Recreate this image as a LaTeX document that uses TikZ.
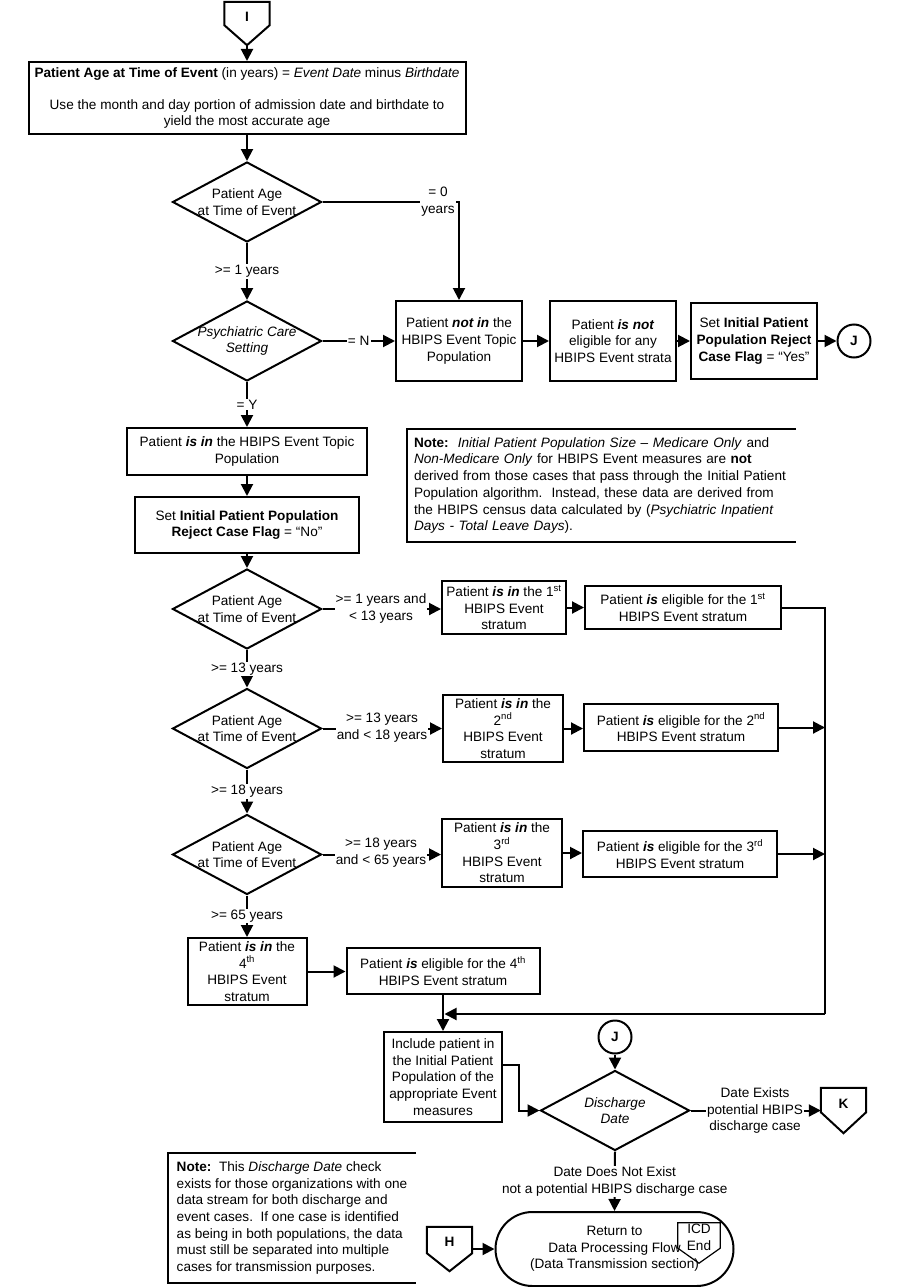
\documentclass[tikz,border=0pt]{standalone}
\usepackage{fontspec}
\setmainfont{Liberation Sans}
\usetikzlibrary{arrows.meta,shapes.geometric,shapes.misc,calc}
\newcommand{\myfs}{\fontsize{13.6}{16.7}\selectfont}
\begin{document}
\begin{tikzpicture}[x=1pt,y=-1pt,
  every node/.style={font=\myfs, text=black},
  lw/.style={line width=2pt},
  ln/.style={line width=2pt},
  box/.style={draw, lw, rectangle, align=center, inner sep=2pt},
  dia/.style={draw, lw, diamond, aspect=1.8625, inner sep=-3pt, minimum width=149pt, minimum height=80pt, align=center},
  arr/.style={line width=2pt, -{Triangle[length=12pt,width=12pt]}},
  lbl/.style={fill=white, inner sep=1pt, align=center},
  conn/.style={inner sep=0pt, minimum width=45pt},
  circ/.style={draw, lw, circle, minimum size=33pt, inner sep=0pt, font=\myfs\bfseries},
  note/.style={inner xsep=7pt, inner ysep=0pt, align=left}
]
\fill[white] (0,0) rectangle (901,1287);
\useasboundingbox (0,0) rectangle (901,1287);

% off-page connector I
\node[conn, minimum height=43pt] (I) at (247,23.5) {};
\draw[lw] (I.north west) -- (I.north east) -- ([yshift=20pt]I.south east) -- (I.south) -- ([yshift=20pt]I.south west) -- cycle;
\node[inner sep=0pt, font=\myfs\bfseries] (Itxt) at ([yshift=-15pt]I.north) {I};

\node[box, minimum width=437pt, minimum height=72pt] (b1) at (247,98)
  {\textbf{Patient Age at Time of Event} (in years) = \textit{Event Date} minus \textit{Birthdate}\\[15.5pt]
   Use the month and day portion of admission date and birthdate to\\yield the most accurate age};
\draw[arr] (I.south) -- (b1.north);

\node[dia] (d1) at (247,202) {Patient Age\\at Time of Event};
\draw[arr] (b1.south) -- (d1.north);

\node[dia] (d2) at (247,341) {\textit{Psychiatric Care}\\\textit{Setting}};
\draw[arr] (d1.south) -- (d2.north);

\node[box, minimum width=126pt, minimum height=80pt] (notin) at (459,341)
  {Patient \textbf{\textit{not in}} the\\HBIPS Event Topic\\Population};
\node[box, minimum width=126pt, minimum height=80pt] (isnot) at (613,341)
  {Patient \textbf{\textit{is not}}\\eligible for any\\HBIPS Event strata};
\node[box, minimum width=126pt, minimum height=76pt] (setyes) at (754,341)
  {Set \textbf{Initial Patient}\\\textbf{Population Reject}\\\textbf{Case Flag} = “Yes”};
\node[circ] (J1) at (854,341) {J};

\draw[arr] (d1.east) -| (notin.north);
\draw[arr] (d2.east) -- (notin.west);
\draw[arr] (notin.east) -- (isnot.west);
\draw[arr] (isnot.east) -- (setyes.west);
\draw[arr] (setyes.east) -- (J1.west);

\node[box, minimum width=240pt, minimum height=47pt] (topic) at (247,451.5)
  {Patient \textbf{\textit{is in}} the HBIPS Event Topic\\Population};
\node[box, minimum width=224pt, minimum height=56pt] (setno) at (247,525)
  {Set \textbf{Initial Patient Population}\\\textbf{Reject Case Flag} = “No”};
\draw[arr] (d2.south) -- (topic.north);
\draw[arr] (topic.south) -- (setno.north);

% note 1
\node[note, text width=375pt, minimum height=113pt] (n1) at (601.5,485.5)
  {\textbf{Note:}\ \ \textit{Initial Patient Population Size – Medicare Only} and\\
   \textit{Non-Medicare Only} for HBIPS Event measures are \textbf{not}\\
   derived from those cases that pass through the Initial Patient\\
   Population algorithm.\ \ Instead, these data are derived from\\
   the HBIPS census data calculated by (\textit{Psychiatric Inpatient}\\
   \textit{Days - Total Leave Days}).};
\draw[lw] (n1.north east) -- (n1.north west) -- (n1.south west) -- (n1.south east);

% age strata
\node[dia] (d3) at (247,609) {Patient Age\\at Time of Event};
\node[dia] (d4) at (247,728.5) {Patient Age\\at Time of Event};
\node[dia] (d5) at (247,854.5) {Patient Age\\at Time of Event};
\draw[arr] (setno.south) -- (d3.north);
\draw[arr] (d3.south) -- (d4.north);
\draw[arr] (d4.south) -- (d5.north);

\node[box, minimum width=124pt, minimum height=53pt] (s1) at (504,607.5)
  {Patient \textbf{\textit{is in}} the 1\textsuperscript{st}\\HBIPS Event\\stratum};
\node[box, minimum width=120pt, minimum height=67pt] (s2) at (503,728.5)
  {Patient \textbf{\textit{is in}} the\\2\textsuperscript{nd}\\HBIPS Event\\stratum};
\node[box, minimum width=120pt, minimum height=68pt] (s3) at (502,853)
  {Patient \textbf{\textit{is in}} the\\3\textsuperscript{rd}\\HBIPS Event\\stratum};
\node[box, minimum width=119pt, minimum height=67pt] (s4) at (247,971.5)
  {Patient \textbf{\textit{is in}} the\\4\textsuperscript{th}\\HBIPS Event\\stratum};

\node[box, minimum width=196pt, minimum height=43pt] (e1) at (683,607.5)
  {Patient \textbf{\textit{is}} eligible for the 1\textsuperscript{st}\\HBIPS Event stratum};
\node[box, minimum width=194pt, minimum height=47pt] (e2) at (681,727.5)
  {Patient \textbf{\textit{is}} eligible for the 2\textsuperscript{nd}\\HBIPS Event stratum};
\node[box, minimum width=194pt, minimum height=46pt] (e3) at (680,854)
  {Patient \textbf{\textit{is}} eligible for the 3\textsuperscript{rd}\\HBIPS Event stratum};
\node[box, minimum width=193pt, minimum height=46pt] (e4) at (443,971)
  {Patient \textbf{\textit{is}} eligible for the 4\textsuperscript{th}\\HBIPS Event stratum};

\draw[arr] (d3.east) -- (d3.east -| s1.west);
\draw[arr] (d4.east) -- (d4.east -| s2.west);
\draw[arr] (d5.east) -- (d5.east -| s3.west);
\draw[arr] (d5.south) -- (s4.north);
\draw[arr] (s1.east) -- (s1.east -| e1.west);
\draw[arr] (s2.east) -- (s2.east -| e2.west);
\draw[arr] (s3.east) -- (s3.east -| e3.west);
\draw[arr] (s4.east) -- (s4.east -| e4.west);

\coordinate (Rtop) at (825,607.5);
\coordinate (Rbot) at (825,1014);
\draw[ln] (e1.east) -- (Rtop) -- (Rbot);
\draw[arr] (e2.east) -- (e2.east -| Rtop);
\draw[arr] (e3.east) -- (e3.east -| Rtop);

\node[box, minimum width=118pt, minimum height=90pt] (inc) at (443,1077)
  {Include patient in\\the Initial Patient\\Population of the\\appropriate Event\\measures};
\draw[arr] (e4.south) -- (inc.north);
\draw[arr, shorten >=1.5pt] (Rbot) -- (Rbot -| inc.north);

% discharge
\node[circ] (J2) at (615,1037) {J};
\node[dia] (dis) at (615,1110.5) {\textit{Discharge}\\\textit{Date}};
\draw[arr] (J2.south) -- (dis.north);
\draw[arr] ([yshift=12pt]inc.east) -- ++(16,0) |- (dis.west);

\node[conn, minimum height=45pt] (K) at (843.5,1110.5) {};
\draw[lw] (K.north west) -- (K.north east) -- ([yshift=21pt]K.south east) -- (K.south) -- ([yshift=21pt]K.south west) -- cycle;
\node[inner sep=0pt, font=\myfs\bfseries] (Ktxt) at ([yshift=-16pt]K.north) {K};
\draw[arr] (dis.east) -- (dis.east -| K.west);

\node[draw, lw, rounded rectangle, minimum width=238pt, minimum height=74pt, inner sep=0pt, align=center] (term) at (614.5,1249)
  {Return to\\Data Processing Flow\\(Data Transmission section)};
\draw[arr] (dis.south) -- (term.north);

\node[conn, minimum width=42pt, minimum height=40pt] (icd) at (699,1243) {};
\draw[line width=1.2pt] (icd.north west) -- (icd.north east) -- ([yshift=15pt]icd.south east) -- (icd.south) -- ([yshift=15pt]icd.south west) -- cycle;
\node[inner sep=0pt, align=center] (icdtxt) at (699,1237.5) {ICD\\End};

\node[conn, minimum height=44pt] (H) at (449.5,1249) {};
\draw[lw] (H.north west) -- (H.north east) -- ([yshift=18pt]H.south east) -- (H.south) -- ([yshift=18pt]H.south west) -- cycle;
\node[inner sep=0pt, font=\myfs\bfseries] (Htxt) at ([yshift=-15pt]H.north) {H};
\draw[arr] (H.east) -- (term.west);

% note 2
\node[note, minimum width=248pt, minimum height=130pt] (n2) at (292,1218)
  {\textbf{Note:}\ \ This \textit{Discharge Date} check\\
   exists for those organizations with one\\
   data stream for both discharge and\\
   event cases.\ \ If one case is identified\\
   as being in both populations, the data\\
   must still be separated into multiple\\
   cases for transmission purposes.};
\draw[lw] (n2.north east) -- (n2.north west) -- (n2.south west) -- (n2.south east);

% connector labels
\node[lbl] (l0) at (438,202) {= 0\\years};
\node[lbl] (l1) at ($(d1.south)!0.5!(d2.north)$) {>= 1 years};
\node[lbl] (lN) at ($(d2.east)!0.5!(notin.west)$) {= N};
\node[lbl] (lY) at ($(d2.south)!0.5!(topic.north)$) {= Y};
\node[lbl] (l13) at ($(d3.south)!0.5!(d4.north)$) {>= 13 years};
\node[lbl] (l18) at ($(d4.south)!0.5!(d5.north)$) {>= 18 years};
\node[lbl] (l65) at ($(d5.south)!0.5!(s4.north)$) {>= 65 years};
\node[lbl] (ls1) at (381,608.5) {>= 1 years and\\< 13 years};
\node[lbl] (ls2) at (382,728) {>= 13 years\\and < 18 years};
\node[lbl] (ls3) at (381,853) {>= 18 years\\and < 65 years};
\node[lbl] (lDE) at (755,1110.5) {Date Exists\\potential HBIPS\\discharge case};
\node[lbl] (lDN) at ($(dis.south)!0.5!(term.north)$) {Date Does Not Exist\\not a potential HBIPS discharge case};
\end{tikzpicture}
\end{document}
